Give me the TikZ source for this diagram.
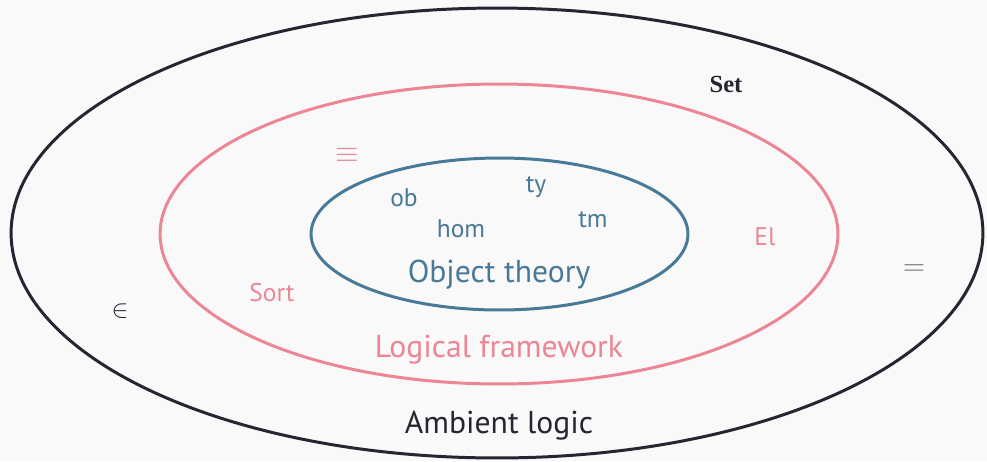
\documentclass[tikz,border=0pt]{standalone}
\usepackage{fontspec}
\setmainfont{PT Sans}
\newfontfamily\setserif{Liberation Serif}
\usepackage{tikz}
\usetikzlibrary{shapes.geometric,positioning}
\definecolor{bgGray}{RGB}{249,249,249}
\definecolor{ambDark}{RGB}{38,38,50}
\definecolor{lfPink}{RGB}{236,134,150}
\definecolor{objBlue}{RGB}{72,122,152}
\definecolor{eqGray}{RGB}{110,110,115}

\tikzset{
  region/.style={ellipse, draw, line width=1.7pt, inner sep=0pt},
  smalllabel/.style={font=\fontsize{14.5}{16}\selectfont},
  symlabel/.style={font=\fontsize{17}{19}\selectfont},
  biglabel/.style={font=\fontsize{18}{21}\selectfont},
}

\begin{document}
\begin{tikzpicture}[x=0.02cm, y=-0.02cm]
\fill[bgGray] (0,0) rectangle (987,461);
\useasboundingbox (0,0) rectangle (987,461);

% the three regions
\node[region, ambDark, minimum width=19.44cm, minimum height=9.0cm] (ambient) at (497,233) {};
\node[region, lfPink, minimum width=13.56cm, minimum height=6.0cm] (framework) at (499,234) {};
\node[region, objBlue, minimum width=7.54cm, minimum height=3.04cm] (object) at (499.5,234) {};

% object theory
\node[smalllabel, text=objBlue] (ob) at (404,198) {ob};
\node[smalllabel, text=objBlue] (hom) at (461,229) {hom};
\node[smalllabel, text=objBlue] (ty) at (536,187) {ty};
\node[smalllabel, text=objBlue] (tm) at (593,220) {tm};
\node[biglabel, text=objBlue] (objname) at (499,275) {Object theory};

% logical framework
\node[symlabel, text=lfPink] (equiv) at (347,155) {$\equiv$};
\node[smalllabel, text=lfPink] (sort) at (272,293) {Sort};
\node[smalllabel, text=lfPink] (el) at (765,237) {El};
\node[biglabel, text=lfPink] (lfname) at (499,350) {Logical framework};

% ambient logic
\node[text=ambDark, font=\fontsize{14}{16}\selectfont\setserif\bfseries] (set) at (726,84) {Set};
\node[symlabel, text=eqGray] (eq) at (914,270) {$=$};
\node[smalllabel, text=ambDark] (elem) at (120,311) {$\in$};
\node[biglabel, text=ambDark] (ambname) at (499,426) {Ambient logic};
\end{tikzpicture}
\end{document}
